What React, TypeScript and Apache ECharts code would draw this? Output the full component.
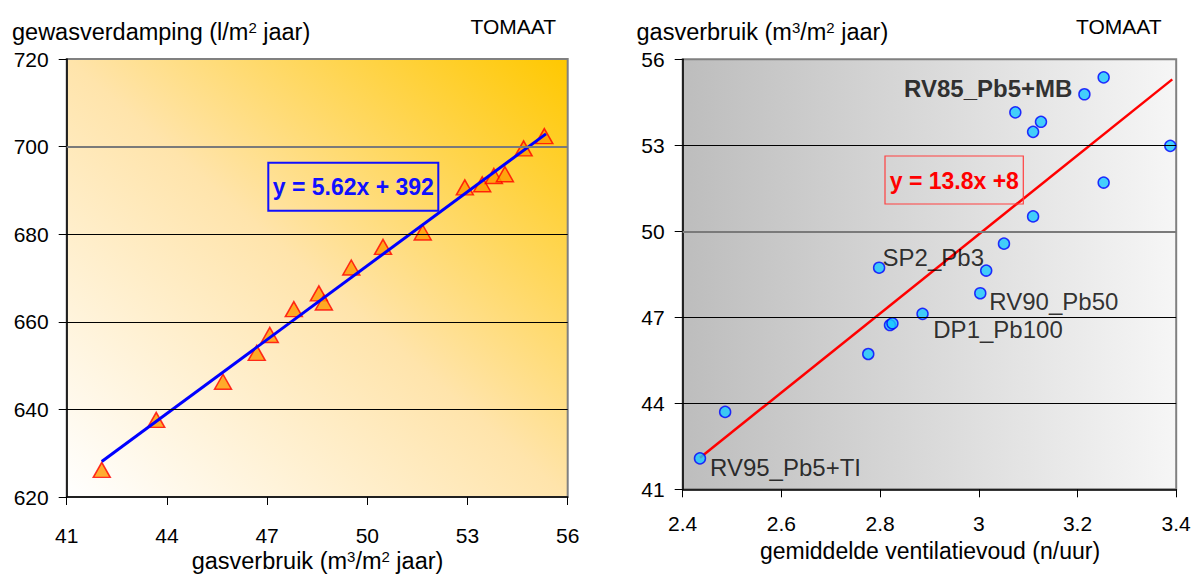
import React, { useEffect, useRef } from 'react';
import * as echarts from 'echarts';

// ---- Left chart data (gasverbruik vs gewasverdamping) ----
const leftX = [42.05, 43.68, 45.68, 46.69, 47.08, 47.8, 48.55, 48.7, 49.52, 50.47, 51.66, 52.92, 53.44, 53.79, 54.12, 54.68, 55.3];
const leftY = [626.2, 637.6, 646.3, 652.9, 657.0, 662.9, 666.5, 664.4, 672.4, 677.1, 680.4, 690.7, 691.4, 693.3, 693.7, 699.6, 702.4];
const leftTrendX = [42.05, 55.35];
const leftTrendY = [628.1, 702.9];
const leftXTicks = [41, 44, 47, 50, 53, 56];
const leftYTicks = [620, 640, 660, 680, 700, 720];
const leftYGrid = [640, 660, 680, 700];
const leftEquation = 'y = 5.62x + 392';

// ---- Right chart data (ventilatievoud vs gasverbruik) ----
const rightX = [2.435, 2.486, 2.776, 2.798, 2.82, 2.825, 2.886, 3.003, 3.015, 3.051, 3.11, 3.074, 3.11, 3.126, 3.214, 3.253, 3.253, 3.388];
const rightY = [42.08, 43.7, 45.72, 48.73, 46.73, 46.79, 47.12, 47.84, 48.63, 49.57, 50.52, 54.15, 53.47, 53.82, 54.78, 55.37, 51.7, 52.98];
const rightLabels = ['RV95_Pb5+TI', '', '', 'SP2_Pb3', '', '', 'DP1_Pb100', 'RV90_Pb50', '', '', '', '', '', '', 'RV85_Pb5+MB', '', '', ''];
const rightTrendX = [2.435, 3.392];
const rightTrendY = [42.1, 55.3];
const rightXTicks = [2.4, 2.6, 2.8, 3, 3.2, 3.4];
const rightYTicks = [41, 44, 47, 50, 53, 56];
const rightYGrid = [44, 47, 50, 53];
const rightEquation = 'y = 13.8x +8';

const FONT = '"Liberation Sans", Arial, sans-serif';

const labelStyles: Record<string, any> = {
  'RV95_Pb5+TI': { position: 'right', dx: 3.8, dy: 9.4 },
  'SP2_Pb3': { position: 'right', dx: -2.8, dy: -10 },
  'DP1_Pb100': { position: 'right', dx: 4.5, dy: 16 },
  'RV90_Pb50': { position: 'right', dx: 2.8, dy: 8.4 },
  'RV85_Pb5+MB': { position: 'left', dx: -5.8, dy: -5.6, fontWeight: 'bold' },
};

function axisCommon(ticks: number[], margin: number) {
  return {
    type: 'value' as const,
    min: ticks[0],
    max: ticks[ticks.length - 1],
    axisLine: { show: true, onZero: false, lineStyle: { color: '#000', width: 1.5 } },
    axisTick: { show: true, inside: false, length: 8, customValues: ticks, lineStyle: { color: '#000', width: 1 } },
    axisLabel: {
      customValues: ticks,
      margin,
      fontSize: 21,
      fontFamily: FONT,
      color: '#000',
      formatter: (v: number) => String(Math.round(v * 100) / 100),
    },
    splitLine: { show: false },
  };
}

function gridLines(values: number[], dark: number) {
  return values.map((v) => ({
    yAxis: v,
    lineStyle: v === dark
      ? { color: '#7a7a7a', width: 2, type: 'solid' }
      : { color: '#000', width: 1, type: 'solid' },
  }));
}

export default function App() {
  const ref = useRef<HTMLDivElement>(null);

  useEffect(() => {
    document.body.style.margin = '0';
    if (!ref.current) return;
    const chart = echarts.init(ref.current, undefined, { renderer: 'svg' });

    const leftPoints = leftX.map((x, i) => [x, leftY[i]]);
    const leftTrend = leftTrendX.map((x, i) => [x, leftTrendY[i]]);
    const rightPoints = rightX.map((x, i) => {
      const name = rightLabels[i];
      const item: any = { value: [x, rightY[i]], name };
      if (name) {
        const s = labelStyles[name] || {};
        item.label = {
          show: true,
          formatter: name,
          position: s.position,
          distance: 0,
          fontSize: 24,
          fontWeight: s.fontWeight || 'normal',
          fontFamily: FONT,
          color: '#000',
        };
      }
      return item;
    });
    const rightTrend = rightTrendX.map((x, i) => [x, rightTrendY[i]]);

    const titleText = (text: string, x: number, y: number, align: string, size = 23, supSize = 15) => ({
      type: 'text',
      x,
      y,
      z: 100,
      style: {
        text,
        fontSize: size,
        fontFamily: FONT,
        fill: '#000',
        align,
        verticalAlign: 'middle',
        textAlign: align,
        textVerticalAlign: 'middle',
        rich: { sup: { fontSize: supSize, fontFamily: FONT, fill: '#000', verticalAlign: 'top' } },
      },
    });

    const option: any = {
      animation: false,
      backgroundColor: '#fff',
      grid: [
        {
          left: 66.7, top: 59, width: 501, height: 438,
          show: true,
          borderColor: '#808080',
          borderWidth: 2,
          backgroundColor: {
            type: 'linear', x: 0, y: 1, x2: 1, y2: 0,
            colorStops: [
              { offset: 0, color: '#ffffff' },
              { offset: 0.5, color: '#ffe4ab' },
              { offset: 1, color: '#ffc800' },
            ],
          },
        },
        {
          left: 682.7, top: 59.3, width: 493.5, height: 430,
          show: true,
          borderColor: '#808080',
          borderWidth: 2,
          backgroundColor: {
            type: 'linear', x: 0, y: 0, x2: 1, y2: 0,
            colorStops: [
              { offset: 0, color: '#bdbdbd' },
              { offset: 1, color: '#f6f6f6' },
            ],
          },
        },
      ],
      xAxis: [
        { ...axisCommon(leftXTicks, 28), gridIndex: 0 },
        { ...axisCommon(rightXTicks, 24), gridIndex: 1 },
      ],
      yAxis: [
        { ...axisCommon(leftYTicks, 18), gridIndex: 0 },
        { ...axisCommon(rightYTicks, 18), gridIndex: 1 },
      ],
      series: [
        {
          type: 'scatter', xAxisIndex: 0, yAxisIndex: 0, data: [], z: 1, silent: true,
          markLine: {
            silent: true, symbol: ['none', 'none'], label: { show: false },
            data: gridLines(leftYGrid, 700),
          },
        },
        {
          type: 'scatter', xAxisIndex: 1, yAxisIndex: 1, data: [], z: 1, silent: true,
          markLine: {
            silent: true, symbol: ['none', 'none'], label: { show: false },
            data: gridLines(rightYGrid, 50),
          },
        },
        {
          type: 'scatter', xAxisIndex: 0, yAxisIndex: 0, data: leftPoints, z: 3,
          symbol: 'triangle', symbolSize: [17, 15],
          itemStyle: { color: '#ff9900', borderColor: '#ff0000', borderWidth: 1.5 },
        },
        {
          type: 'line', xAxisIndex: 0, yAxisIndex: 0, data: leftTrend, z: 4,
          symbol: 'none', lineStyle: { color: '#0000ff', width: 3 },
        },
        {
          type: 'line', xAxisIndex: 1, yAxisIndex: 1, data: rightTrend, z: 3,
          symbol: 'none', lineStyle: { color: '#ff0000', width: 2.5 },
        },
        {
          type: 'scatter', xAxisIndex: 1, yAxisIndex: 1, data: rightPoints, z: 4,
          symbol: 'circle', symbolSize: 11,
          itemStyle: { color: '#19c8ff', borderColor: '#0000ff', borderWidth: 1.5 },
          labelLayout: (params: any) => {
            const name = rightLabels[params.dataIndex];
            const s = name ? labelStyles[name] : null;
            if (!s) return {};
            return { dx: s.dx, dy: s.dy, hideOverlap: false };
          },
        },
      ],
      graphic: [
        titleText('gewasverdamping (l/m{sup|2} jaar)', 12, 32, 'left', 23.5),
        titleText('TOMAAT', 470.5, 26, 'left', 21),
        titleText('gasverbruik (m{sup|3}/m{sup|2} jaar)', 636.5, 32, 'left', 23.5),
        titleText('TOMAAT', 1076, 26, 'left', 21),
        titleText('gasverbruik (m{sup|3}/m{sup|2} jaar)', 317.5, 561, 'center', 23.5),
        titleText('gemiddelde ventilatievoud (n/uur)', 930, 551, 'center'),
        {
          type: 'rect', z: 100,
          shape: { x: 268.3, y: 162.7, width: 170, height: 48 },
          style: { fill: 'none', stroke: '#1010ff', lineWidth: 2 },
        },
        {
          type: 'text', z: 101, x: 353.3, y: 187,
          style: {
            text: leftEquation, fontSize: 23, fontWeight: 'bold', fontFamily: FONT, fill: '#1010ff',
            align: 'center', verticalAlign: 'middle', textAlign: 'center', textVerticalAlign: 'middle',
          },
        },
        {
          type: 'rect', z: 100,
          shape: { x: 885, y: 156, width: 138.3, height: 48 },
          style: { fill: 'none', stroke: '#ff4040', lineWidth: 1.2 },
        },
        {
          type: 'text', z: 101, x: 954.3, y: 180.5,
          style: {
            text: rightEquation, fontSize: 23, fontWeight: 'bold', fontFamily: FONT, fill: '#ff0000',
            align: 'center', verticalAlign: 'middle', textAlign: 'center', textVerticalAlign: 'middle',
          },
        },
      ],
    };

    chart.setOption(option);
    return () => chart.dispose();
  }, []);

  return <div ref={ref} style={{ width: 1202, height: 578 }} />;
}
